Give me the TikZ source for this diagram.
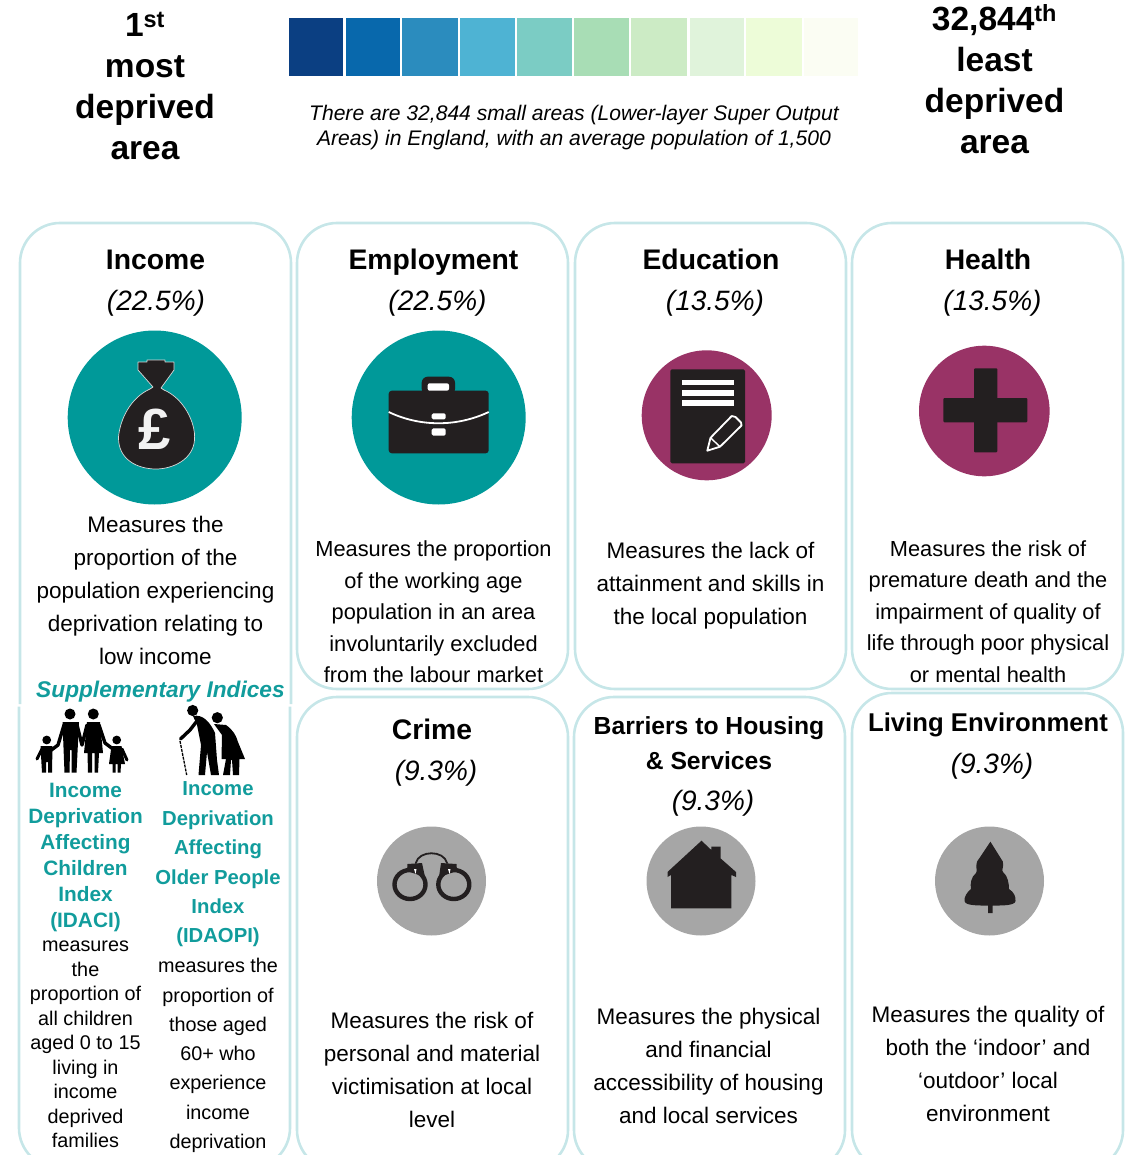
\documentclass[tikz,border=0pt]{standalone}
\usepackage{fontspec}
\setmainfont{Liberation Sans}
\definecolor{cardc}{HTML}{C6E6E8}
\definecolor{tealc}{HTML}{009999}
\definecolor{tealt}{HTML}{119C9C}
\definecolor{plum}{HTML}{993366}
\definecolor{greyc}{HTML}{A6A6A6}
\definecolor{inkc}{HTML}{231F20}
\definecolor{b1}{HTML}{0B3F82}\definecolor{b2}{HTML}{0868AC}\definecolor{b3}{HTML}{2B8CBE}
\definecolor{b4}{HTML}{4EB3D3}\definecolor{b5}{HTML}{7BCCC4}\definecolor{b6}{HTML}{A8DDB5}
\definecolor{b7}{HTML}{CCEBC5}\definecolor{b8}{HTML}{E0F3DB}\definecolor{b9}{HTML}{EDFCD8}
\definecolor{b10}{HTML}{FBFDF3}
\newcommand{\fs}[2]{\fontsize{#1pt}{#2pt}\selectfont}
\tikzset{
  x=1pt,y=-1pt,
  txt/.style={inner sep=0pt,outer sep=0pt,align=center,text=black},
  big/.style={txt,font=\fs{33.5}{41}\bfseries},
  head/.style={txt,font=\fs{28.3}{34}\bfseries},
  pct/.style={txt,font=\fs{28}{34}\itshape},
  body/.style={txt,font=\fs{22.5}{33}},
  bodytight/.style={txt,font=\fs{21.8}{31.5}},
  card/.style={draw=cardc,line width=2.6pt,rounded corners=40pt},
  ink/.style={fill=inkc,draw=none},
  inkl/.style={draw=inkc,line cap=round,line join=round},
  whitel/.style={draw=white,line join=round},
  teal1/.style={txt,text=tealt,font=\fs{20.8}{26}\bfseries},
  teal2/.style={txt,text=tealt,font=\fs{20.3}{29.4}\bfseries},
  small1/.style={txt,font=\fs{19.8}{24.5}},
  small2/.style={txt,font=\fs{19.8}{29.3}},
  limb/.style={draw=black,line width=3.4pt,line cap=round,line join=round}
}
\begin{document}
\begin{tikzpicture}
\useasboundingbox (0,0) rectangle (1140,1155);
\clip (0,0) rectangle (1140,1155);
% colour scale
\foreach \i/\a/\b in {1/288.7/343.3,2/345.5/400,3/402/458,4/460/515,5/517/571.6,6/574/629,7/631/687,8/689.5/744,9/746/801.5,10/803.6/858}{
  \fill[b\i] (\a,18.3) rectangle (\b,76);
}
% top texts
\node[big] (leftlabel) at (145,86.5) {1\textsuperscript{st}\\most\\deprived\\area};
\node[big] (rightlabel) at (994.5,79.5) {32,844\textsuperscript{th}\\least\\deprived\\area};
\node[txt,font=\fs{21.1}{25.5}\itshape] (note) at (574,127.5) {There are 32,844 small areas (Lower-layer Super Output\\Areas) in England, with an average population of 1,500};
% cards
\draw[card] (20,704) -- (20,223) -- (291,223) -- (291,704);
\draw[card] (19,706.5) -- (19,1168) -- (290,1168) -- (290,706.5);
\draw[card] (297,689) rectangle (568,223);
\draw[card] (575,689) rectangle (846,223);
\draw[card] (852,689) rectangle (1123,223);
\draw[card] (297,1170) rectangle (568,697);
\draw[card] (574,1170) rectangle (845,697);
\draw[card] (852,1170) rectangle (1123,693);
% headers
\node[head] (h1) at (155.5,260) {Income};
\node[pct] (p1) at (156,303) {(22.5\%)};
\node[head] (h2) at (433.5,262) {Employment};
\node[pct] (p2) at (437.5,303) {(22.5\%)};
\node[head] (h3) at (711,259) {Education};
\node[pct] (p3) at (715,303) {(13.5\%)};
\node[head] (h4) at (988,259) {Health};
\node[pct] (p4) at (992.5,303) {(13.5\%)};
\node[head] (h5) at (432,729) {Crime};
\node[pct] (p5) at (436,773) {(9.3\%)};
\node[txt,font=\fs{24.7}{35}\bfseries] (h6) at (709,743) {Barriers to Housing\\\& Services};
\node[pct] (p6) at (713,803) {(9.3\%)};
\node[txt,font=\fs{25.7}{30}\bfseries] (h7) at (988,725) {Living Environment};
\node[pct] (p7) at (992,766) {(9.3\%)};
% bodies
\node[body] (b-inc) at (155.5,590.5) {Measures the\\proportion of the\\population experiencing\\deprivation relating to\\low income};
\node[bodytight] (b-emp) at (433.5,612) {Measures the proportion\\of the working age\\population in an area\\involuntarily excluded\\from the labour market};
\node[body] (b-edu) at (710.5,585.5) {Measures the lack of\\attainment and skills in\\the local population};
\node[bodytight] (b-hea) at (988,611.5) {Measures the risk of\\premature death and the\\impairment of quality of\\life through poor physical\\or mental health};
\node[body] (b-cri) at (432,1069.5) {Measures the risk of\\personal and material\\victimisation at local\\level};
\node[body] (b-bar) at (708.5,1065.5) {Measures the physical\\and financial\\accessibility of housing\\and local services};
\node[body] (b-liv) at (988,1064) {Measures the quality of\\both the ‘indoor’ and\\‘outdoor’ local\\environment};
% supplementary
\node[txt,text=tealt,font=\fs{22.7}{28}\bfseries\itshape] (supp) at (160.5,692) {Supplementary Indices};
\node[teal1] (idaci) at (85.5,857) {Income\\Deprivation\\Affecting\\Children\\Index\\(IDACI)};
\node[small1] (idaci-t) at (85.5,1044.5) {measures\\the\\proportion of\\all children\\aged 0 to 15\\living in\\income\\deprived\\families};
\node[teal2] (idaopi) at (218,864.5) {Income\\Deprivation\\Affecting\\Older People\\Index\\(IDAOPI)};
\node[small2] (idaopi-t) at (218,1055.5) {measures the\\proportion of\\those aged\\60+ who\\experience\\income\\deprivation};
% icon circles
\fill[tealc] (154.7,417.5) circle (87);
\fill[tealc] (438.7,417.5) circle (87);
\fill[plum] (706.7,415.3) circle (65);
\fill[plum] (984.3,411) circle (65.3);
\fill[greyc] (431.5,881) circle (54.5);
\fill[greyc] (701,881) circle (54.5);
\fill[greyc] (989.5,881) circle (54.5);
% money bag
\path[ink,draw=white!85!black,line width=.7pt,line join=round] (138,362) -- (147,362) -- (147,360) -- (165,360) -- (165,362) -- (174,362) -- (174,370) -- (161,388) -- (164,390)
  .. controls (183,398) and (196,422) .. (194.5,440)
  .. controls (193,460) and (172,469) .. (156,469)
  .. controls (138,469) and (118,460) .. (118.5,437)
  .. controls (120,420) and (130,398) .. (150,389) -- (153,387) -- (138,370) -- cycle;
\node[txt,text=white!95!black,font=\fs{58}{58}\bfseries] (pound) at (155,429) {£};
% briefcase
\fill[inkc,rounded corners=3pt] (388.7,390.7) rectangle (488.7,453.3);
\fill[inkc,rounded corners=6pt] (421.7,395) -- (421.7,376.7) -- (455,376.7) -- (455,395) -- cycle;
\fill[white,rounded corners=2pt] (427.7,390.7) -- (427.7,383.3) -- (449,383.3) -- (449,390.7) -- cycle;
\draw[whitel,line width=1.8pt] (388.7,412) .. controls (420,427) and (457,427) .. (488.7,412);
\fill[white,rounded corners=1.5pt] (431.7,413.3) rectangle (445.7,419.3);
\fill[white,rounded corners=1.5pt] (431.7,428.3) rectangle (445.7,435.7);
% document
\fill[inkc,rounded corners=1.5pt] (670.3,369.3) rectangle (745,463.3);
\fill[white] (681.7,379.7) rectangle (734.3,385);
\fill[white] (681.7,390) rectangle (734.3,395.7);
\fill[white] (681.7,400.3) rectangle (734.3,406);
\draw[whitel,line width=1.8pt] (707.3,450.7) -- (710.5,437.8) -- (731.7,416) -- (735.5,417) -- (741,422.5) -- (741.5,425.5) -- (720,446.7) -- cycle;
\draw[whitel,line width=1.4pt] (710.5,437.8) -- (720,446.7);
% plus
\fill[inkc,rounded corners=1pt] (974,368.3) rectangle (997.3,452.3);
\fill[inkc,rounded corners=1pt] (943.3,398) rectangle (1027.3,422.3);
% handcuffs
\draw[inkl,line width=4.4pt] (410,884.5) ellipse [x radius=15.5,y radius=14.5];
\draw[inkl,line width=4.4pt] (453.8,884.5) ellipse [x radius=15.5,y radius=14.5];
\path[ink] (407.5,864) -- (422,863) -- (425,877) -- (407,871) -- cycle;
\path[ink] (456.5,864) -- (441,863) -- (439,877) -- (457,871) -- cycle;
\fill[white] (414,869) -- (416.5,869) -- (415.5,874) -- cycle;
\fill[white] (448,869) -- (450.5,869) -- (449.5,874) -- cycle;
\draw[inkl,line width=1.8pt] (415.8,863) .. controls (419,850) and (444,850) .. (447,863);
% house
\path[ink] (701.5,840.7) -- (711.3,850) -- (711.3,846.7) -- (720.7,846.7) -- (720.7,858.5) -- (736,872) -- (736,877) -- (731.4,875) -- (731.4,908.3) -- (671,908.3) -- (671,875) -- (667.5,877) -- (667.5,872) -- cycle;
% tree
\path[ink] (990.4,841.7) -- (1002.9,861.7) .. controls (1004,868) and (1001,870) .. (1003,872)
  .. controls (1008,876) and (1009,884) .. (1009,889)
  .. controls (1014,892) and (1016,897) .. (1015.5,901)
  .. controls (1015,906) and (1000,905.5) .. (992.6,905.5) -- (992.6,913) -- (988,913) -- (988,905.5)
  .. controls (980,905.5) and (965,906) .. (964.5,901)
  .. controls (964,897) and (967,892) .. (971,889)
  .. controls (970,884) and (971,877) .. (976,873)
  .. controls (978,870) and (975,868) .. (977,861.7) -- cycle;
% family
\fill[black] (70,714) circle (5.5);
\fill[black] (93.3,714) circle (5.5);
\fill[black] (46.7,740) circle (4.4);
\fill[black] (116.7,740) circle (4.4);
\path[fill=black] (62.5,722) -- (79,722) -- (76.5,772.7) -- (71.5,772.7) -- (71.5,750) -- (70,750) -- (69.5,772.7) -- (64.5,772.7) -- cycle;
\path[fill=black] (87,722) -- (100,722) -- (103,753) -- (99,753) -- (98,772.7) -- (94.5,772.7) -- (94.5,753) -- (92,753) -- (92,772.7) -- (88,772.7) -- (87.5,753) -- (84,753) -- cycle;
\path[fill=black] (40.5,746) -- (52.5,746) -- (52,772.7) -- (48,772.7) -- (48,762) -- (46,762) -- (46,772.7) -- (42,772.7) -- cycle;
\path[fill=black] (111.5,746) -- (121.5,746) -- (125,764) -- (121,764) -- (120.5,772.7) -- (117.5,772.7) -- (117.5,764) -- (115.5,764) -- (115.5,772.7) -- (112.5,772.7) -- (112.5,764) -- (109,764) -- cycle;
\draw[limb] (64,725) -- (58,745) -- (50,751);
\draw[limb] (77,725) -- (82,745) -- (87,725);
\draw[limb] (99,725) -- (105,743) -- (113,749);
\draw[limb,line width=3pt] (42,749) -- (37,759);
\draw[limb,line width=3pt] (122,749) -- (127,760);
% elderly couple
\fill[black] (192.7,710.5) circle (5.6);
\fill[black] (217.3,717.7) circle (5.6);
\path[fill=black] (193,716) .. controls (203,714) and (210,722) .. (215,733) -- (217,760) -- (219,775) -- (211,775) -- (207,752) -- (205,775) -- (198.5,775) -- (201,745) -- (197,725) -- cycle;
\draw[limb] (197,721) -- (190,730) -- (180.5,739);
\path[fill=black] (214,724) -- (226,725) .. controls (233,730) and (236,735) .. (238,742) -- (245,759) -- (239.5,759) -- (239,775) -- (233,775) -- (232,760) -- (231,760) -- (230,775) -- (223,775) -- (226,759) -- (221.5,759) -- (222,735) -- cycle;
\draw[draw=black,line width=1.3pt,dash pattern=on 3pt off 1pt] (180,741) -- (186.7,775);
\end{tikzpicture}
\end{document}
